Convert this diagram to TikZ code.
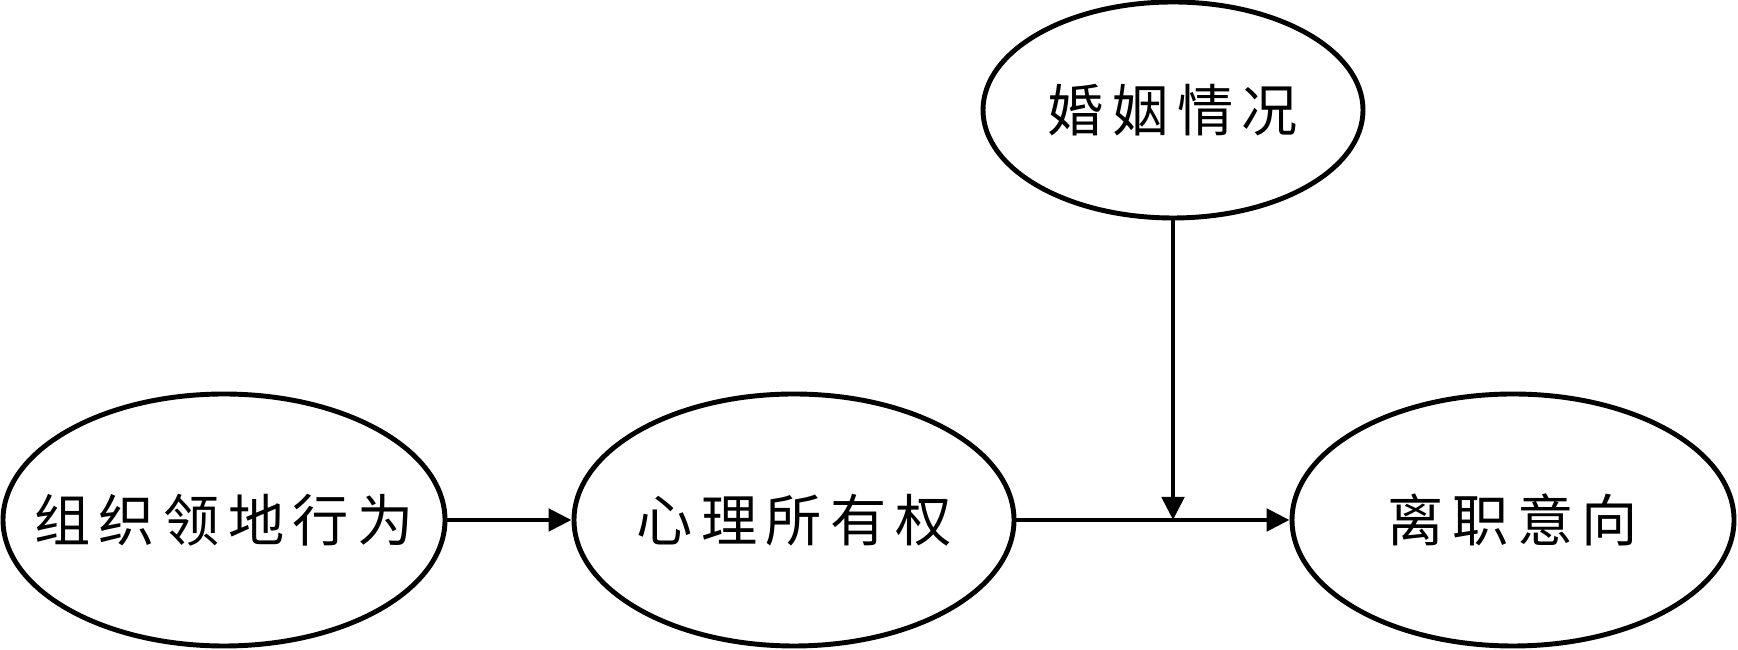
\documentclass[tikz,border=0pt]{standalone}
\usepackage{fontspec}
\newfontfamily\cjk[LetterSpace=15]{Noto Sans CJK SC}
\usetikzlibrary{shapes.geometric,arrows.meta}
\newcommand\lbl[1]{\makebox[0pt]{#1}}
\tikzset{
  oval/.style={draw, ellipse, line width=1.4pt, inner sep=0pt, font=\cjk\fontsize{16}{18}\selectfont},
  link/.style={line width=1.4pt, -{Triangle[length=0.23cm,width=0.22cm]}}
}
\begin{document}
\begin{tikzpicture}[scale=1]
            \useasboundingbox (0,0) rectangle (17.38,6.5);
            \node[oval, minimum width=4.42cm, minimum height=2.52cm] (terr) at (2.24,1.30) {\lbl{组织领地行为}};
            \node[oval, minimum width=4.40cm, minimum height=2.52cm] (own) at (7.94,1.30) {\lbl{心理所有权}};
            \node[oval, minimum width=4.42cm, minimum height=2.52cm] (quit) at (15.13,1.30) {\lbl{离职意向}};
            \node[oval, minimum width=3.80cm, minimum height=2.16cm] (marr) at (11.73,5.40) {\lbl{婚姻情况}};
            \coordinate (mod) at (marr.south |- own.east);
            \draw[link] (terr) -- (own);
            \draw[link] (own) -- (quit);
            \draw[link] (marr) -- (mod);
        \end{tikzpicture}
\end{document}
